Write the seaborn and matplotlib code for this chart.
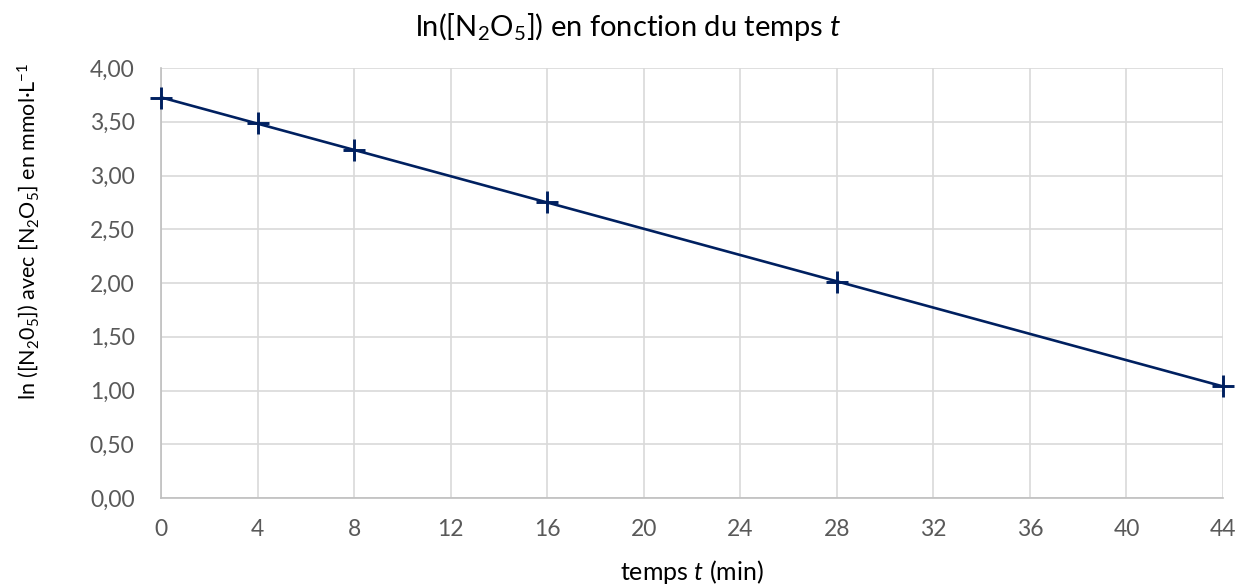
import matplotlib
matplotlib.use('Agg')
import matplotlib.pyplot as plt
import matplotlib.ticker as mticker
import pandas as pd
import seaborn as sns

# valeurs
temps = [0, 4, 8, 16, 28, 44]
ln_c = [3.72, 3.49, 3.24, 2.75, 2.01, 1.04]
x_ticks = [0, 4, 8, 12, 16, 20, 24, 28, 32, 36, 40, 44]
y_ticks = [0.0, 0.5, 1.0, 1.5, 2.0, 2.5, 3.0, 3.5, 4.0]

df = pd.DataFrame({'temps': temps, 'ln_c': ln_c})

sns.set_theme(style='whitegrid')
plt.rcParams['font.family'] = ['Lato', 'DejaVu Sans']
plt.rcParams['mathtext.fontset'] = 'custom'
plt.rcParams['mathtext.rm'] = 'Lato'
plt.rcParams['mathtext.it'] = 'Lato:italic'

couleur = '#002060'
gris_grille = '#d9d9d9'
gris_texte = '#595959'

fig = plt.figure(figsize=(12.49, 5.88), dpi=100)
ax = fig.add_axes([161 / 1249, 1 - 498 / 588, (1223 - 161) / 1249, (498 - 68) / 588])

# droite de tendance + points
sns.regplot(data=df, x='temps', y='ln_c', ci=None, scatter=False, ax=ax,
            line_kws={'color': couleur, 'linewidth': 1.9, 'clip_on': False})
sns.scatterplot(data=df, x='temps', y='ln_c', marker='+', s=250, color=couleur,
                linewidth=2.1, ax=ax, clip_on=False, zorder=5)

ax.set_xlim(0, 44)
ax.set_ylim(0, 4)
ax.set_xticks(x_ticks)
ax.set_yticks(y_ticks)
ax.yaxis.set_major_formatter(mticker.FuncFormatter(lambda v, p: f'{v:.2f}'.replace('.', ',')))

ax.grid(True, color=gris_grille, linewidth=1.2)
ax.set_axisbelow(True)
for s in ['top', 'right']:
    ax.spines[s].set_visible(False)
for s in ['left', 'bottom']:
    ax.spines[s].set_color('#bfbfbf')
    ax.spines[s].set_linewidth(1.2)

ax.tick_params(axis='both', length=0, labelsize=16.5, colors=gris_texte)
ax.tick_params(axis='x', pad=15)
ax.tick_params(axis='y', pad=19)

ax.set_xlabel(r'temps $\mathit{t}$ (min)', fontsize=18, color='black')
ax.xaxis.set_label_coords(0.5, -0.14)
ax.set_ylabel(r'ln ([N$_2$0$_5$]) avec [N$_2$O$_5$] en mmol·L$^{-1}$', fontsize=15.5, color='black')
ax.yaxis.set_label_coords(-0.113, 0.62)

fig.text(628 / 1249, 1 - 27 / 588, r'ln([N$_2$O$_5$]) en fonction du temps $\mathit{t}$',
         ha='center', va='center', fontsize=21, color='black')

fig.savefig('out.png', dpi=100, facecolor='white')
